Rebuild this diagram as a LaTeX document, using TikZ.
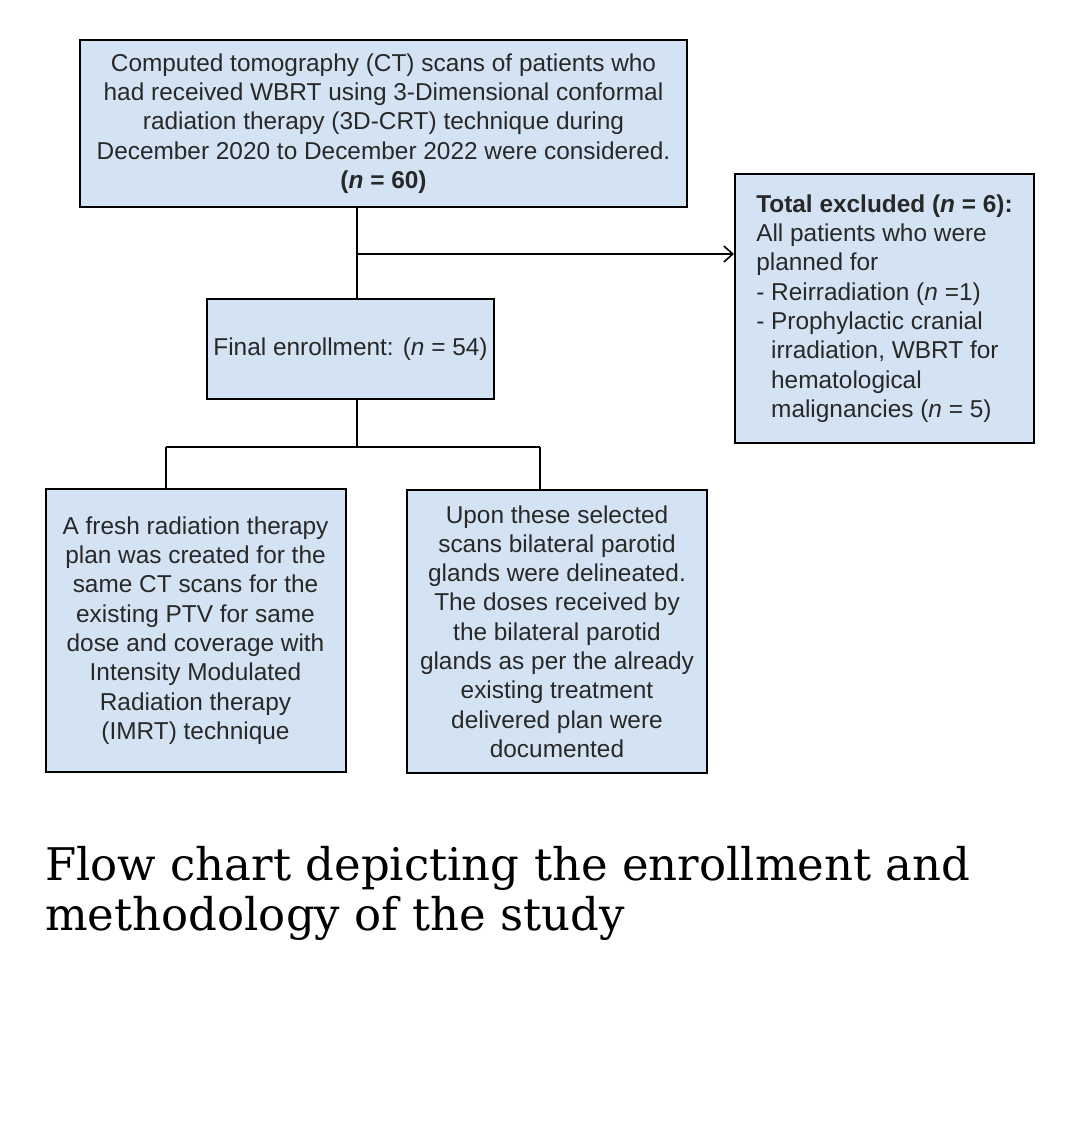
\documentclass[tikz,border=0pt]{standalone}
\usepackage{fontspec}
\setmainfont{Liberation Sans}
\newfontfamily\capfont{DejaVu Serif}
\usetikzlibrary{arrows.meta}
\definecolor{boxfill}{RGB}{211,227,243}
\definecolor{txt}{RGB}{40,40,40}
\begin{document}
\begin{tikzpicture}[x=1pt,y=-1pt,
  box/.style={draw=black,line width=2pt,fill=boxfill,inner sep=0pt,text=txt,
    font=\fontsize{24.4}{29.3}\selectfont},
  conn/.style={draw=black,line width=2pt},
  >={Straight Barb[length=9pt,width=16pt,line width=1.6pt]}]
\useasboundingbox (0,0) rectangle (1080,1135);
\fill[white] (0,0) rectangle (1080,1135);

\node[box,minimum width=607pt,minimum height=167pt,align=center] (top) at (383.5,123.5)
 {Computed tomography (CT) scans of patients who\\
  had received WBRT using 3-Dimensional conformal\\
  radiation therapy (3D-CRT) technique during\\
  December 2020 to December 2022 were considered.\\
  \textbf{(\textit{n} = 60)}};

\node[box,minimum width=287pt,minimum height=100pt,align=center] (final) at (350.5,349)
 {Final enrollment: (\textit{n} = 54)};

\node[box,minimum width=299pt,minimum height=269pt,align=left] (excl) at (884.5,308.5)
 {\textbf{Total excluded (\textit{n} = 6):}\\
  All patients who were\\
  planned for\\
  - Reirradiation (\textit{n} =1)\\
  - Prophylactic cranial\\
  \phantom{- }irradiation, WBRT for\\
  \phantom{- }hematological\\
  \phantom{- }malignancies (\textit{n} = 5)};

\node[box,minimum width=300pt,minimum height=283pt,align=center] (left) at (195.5,630.5)
 {A fresh radiation therapy\\
  plan was created for the\\
  same CT scans for the\\
  existing PTV for same\\
  dose and coverage with\\
  Intensity Modulated\\
  Radiation therapy\\
  (IMRT) technique};

\node[box,minimum width=300pt,minimum height=283pt,align=center] (right) at (557,631.5)
 {Upon these selected\\
  scans bilateral parotid\\
  glands were delineated.\\
  The doses received by\\
  the bilateral parotid\\
  glands as per the already\\
  existing treatment\\
  delivered plan were\\
  documented};

\coordinate (tsplit) at (357,254);
\coordinate (bsplit) at (357,447);
\coordinate (lcorner) at (166,447);
\coordinate (rcorner) at (540,447);

\draw[conn] (top.south -| tsplit) -- (final.north -| tsplit);
\draw[conn,->] (tsplit) -- (tsplit -| excl.west);
\draw[conn] (final.south -| bsplit) -- (bsplit);
\draw[conn] (lcorner) -- (rcorner);
\draw[conn] (lcorner) -- (lcorner |- left.north);
\draw[conn] (rcorner) -- (rcorner |- right.north);

\node[anchor=base west,inner sep=0pt,align=left,text=black,
  font=\capfont\fontsize{45}{50}\selectfont] (cap) at (45,930)
 {Flow chart depicting the enrollment and\\ methodology of the study};
\end{tikzpicture}
\end{document}
